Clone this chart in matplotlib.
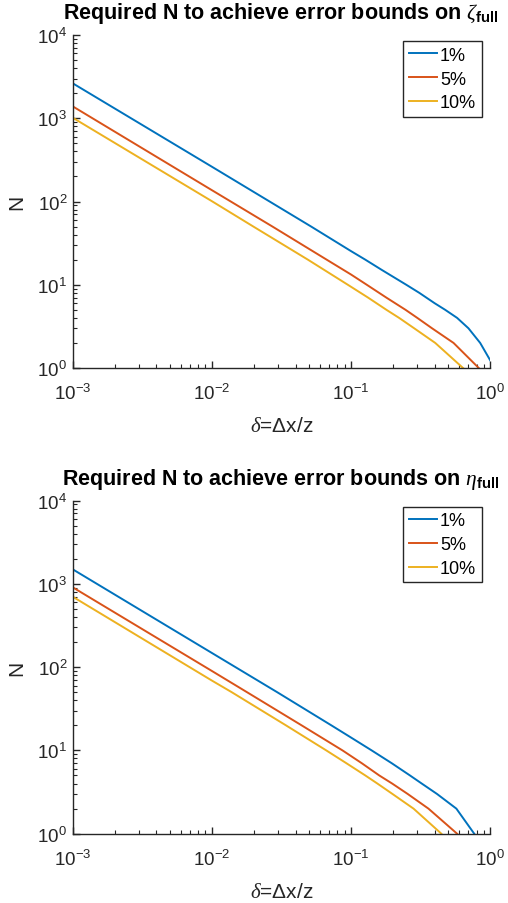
import matplotlib
matplotlib.use('Agg')
import matplotlib.pyplot as plt
from matplotlib.ticker import LogLocator, NullFormatter, LogFormatterSciNotation

plt.rcParams['font.family'] = ['Liberation Sans', 'DejaVu Sans']
plt.rcParams['mathtext.fontset'] = 'custom'
plt.rcParams['mathtext.rm'] = 'Liberation Sans'
plt.rcParams['mathtext.it'] = 'Liberation Serif:italic'
plt.rcParams['mathtext.bf'] = 'Liberation Sans:bold'
plt.rcParams['mathtext.sf'] = 'Liberation Sans'

labels = ['1%', '5%', '10%']
colors = ['#0072BD', '#D95319', '#EDB120']

# Required N vs delta for zeta_full
zeta_delta_1 = [0.001, 0.01, 0.0518, 0.1, 0.127, 0.1675, 0.25, 0.31, 0.40, 0.476, 0.58, 0.70, 0.85, 1.08]
zeta_N_1 = [2630, 262, 50, 25.4, 20, 15, 10, 8, 6, 5, 4, 3, 2, 1]
zeta_delta_5 = [0.001, 0.01, 0.0273, 0.067, 0.1, 0.13, 0.18, 0.247, 0.30, 0.383, 0.547, 0.83]
zeta_N_5 = [1390, 137, 50, 20, 13.3, 10, 7, 5, 4, 3, 2, 1]
zeta_delta_10 = [0.001, 0.01, 0.0199, 0.0491, 0.095, 0.133, 0.18, 0.222, 0.285, 0.404, 0.64]
zeta_N_10 = [1015, 101, 50, 20, 10, 7, 5, 4, 3, 2, 1]

# Required N vs delta for eta_full
eta_delta_1 = [0.001, 0.01, 0.0295, 0.0723, 0.1, 0.141, 0.197, 0.266, 0.323, 0.416, 0.573, 0.77]
eta_N_1 = [1493, 148, 50, 20, 14.3, 10, 7, 5, 4, 3, 2, 1]
eta_delta_5 = [0.001, 0.01, 0.0179, 0.0442, 0.087, 0.12, 0.16, 0.198, 0.256, 0.361, 0.58]
eta_N_5 = [908, 90, 50, 20, 10, 7, 5, 4, 3, 2, 1]
eta_delta_10 = [0.001, 0.01, 0.0139, 0.0341, 0.0665, 0.093, 0.127, 0.155, 0.199, 0.282, 0.447]
eta_N_10 = [700, 69, 50, 20, 10, 7, 5, 4, 3, 2, 1]

titles = [r'Required N to achieve error bounds on $\zeta_{\mathbf{full}}$',
          r'Required N to achieve error bounds on $\eta_{\mathbf{full}}$']
xlabel = r'$\delta$=$\Delta$x/z'

W, H = 508, 904
fig = plt.figure(figsize=(W / 100, H / 100), dpi=100)

axc = '#262626'
panels = [
    ((72.7, 36, 490, 369), [(zeta_delta_1, zeta_N_1), (zeta_delta_5, zeta_N_5), (zeta_delta_10, zeta_N_10)]),
    ((72.7, 501.5, 490, 834.7), [(eta_delta_1, eta_N_1), (eta_delta_5, eta_N_5), (eta_delta_10, eta_N_10)]),
]

for i, ((x0, y0, x1, y1), series) in enumerate(panels):
    ax = fig.add_axes([x0 / W, 1 - y1 / H, (x1 - x0) / W, (y1 - y0) / H])
    for (d, n), c, lab in zip(series, colors, labels):
        ax.plot(d, n, color=c, lw=1.4, label=lab)
    ax.set_xscale('log')
    ax.set_yscale('log')
    ax.set_xlim(1e-3, 1)
    ax.set_ylim(1, 1e4)
    for s in ['top', 'right']:
        ax.spines[s].set_visible(False)
    for s in ['left', 'bottom']:
        ax.spines[s].set_color(axc)
        ax.spines[s].set_linewidth(1.0)
    for axis in (ax.xaxis, ax.yaxis):
        axis.set_major_locator(LogLocator(base=10, numticks=10))
        axis.set_minor_locator(LogLocator(base=10, subs=range(2, 10), numticks=10))
        axis.set_minor_formatter(NullFormatter())
        axis.set_major_formatter(LogFormatterSciNotation())
    ax.tick_params(which='major', direction='in', length=5, width=1.0, color=axc,
                   labelsize=13.5, labelcolor=axc, top=False, right=False)
    ax.tick_params(which='minor', direction='in', length=3, width=0.8, color=axc,
                   top=False, right=False)
    ax.tick_params(axis='x', which='major', pad=11)
    ax.tick_params(axis='y', which='major', pad=4)
    ax.set_xlabel(xlabel, fontsize=15, color=axc, labelpad=9)
    ax.set_ylabel('N', fontsize=15, color=axc, labelpad=8)
    ax.set_title(titles[i], fontsize=15.5, fontweight='bold', pad=12)
    leg = ax.legend(loc='upper right', bbox_to_anchor=(0.98, 0.981), fontsize=13,
                    frameon=True, fancybox=False, framealpha=1, edgecolor=axc,
                    handlelength=1.6, handletextpad=0.15, labelspacing=0.38,
                    borderpad=0.3, borderaxespad=0)
    leg.get_frame().set_linewidth(1.0)

fig.savefig('out.png', dpi=100)
